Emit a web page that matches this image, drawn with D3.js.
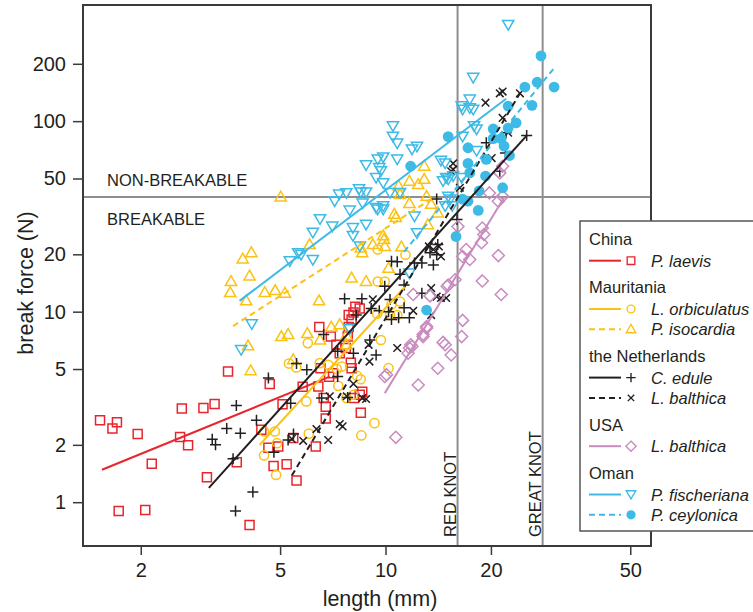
<!DOCTYPE html>
<html>
<head>
<meta charset="utf-8">
<script src="https://cdn.jsdelivr.net/npm/d3@7"></script>
<style>
  body { margin: 0; background: #fff; }
  svg { display: block; font-family: "Liberation Sans", Arial, Helvetica, sans-serif; }
</style>
</head>
<body>
<div id="chart"></div>
<script>
// [length (mm), break force (N)]
const laevisChina = [[1.53,2.69],[1.66,2.44],[1.71,2.63],[1.73,0.90],[1.96,2.28],[2.06,0.91],[2.15,1.59],[2.59,2.20],[2.62,3.10],[2.73,1.99],[3.02,3.12],[3.09,1.35],[3.25,3.28],[3.55,4.85],[3.76,1.62],[4.09,0.76],[4.42,2.40],[4.67,4.17],[4.63,1.93],[4.79,1.55],[4.94,1.96],[5.08,3.27],[5.22,1.58],[5.45,2.17],[5.57,1.30],[5.80,4.03],[6.32,1.96],[6.47,8.3],[6.43,4.05],[6.52,5.05],[6.66,3.52],[6.75,2.75],[6.75,3.17],[6.98,7.4],[7.08,4.75],[6.9,4.55],[7.24,6.7],[7.4,6.05],[7.85,9.6],[8.0,9.1],[8.2,10.6],[8.44,10.4],[8.0,5.05],[7.96,5.4],[8.14,3.52],[8.44,3.66],[8.58,3.8],[8.5,2.95],[7.85,8.3],[7.8,7.4],[7.7,6.45],[8.1,9.9]];
const orbiculatusMau = [[4.5,1.76],[4.87,1.39],[4.5,2.35],[4.9,2.04],[4.83,2.35],[5.3,5.34],[5.56,5.1],[6.0,6.84],[5.94,3.38],[6.04,2.29],[6.49,5.37],[6.86,5.26],[7.26,5.0],[7.33,4.08],[7.73,3.52],[8.1,3.66],[8.3,4.6],[8.5,4.42],[8.53,2.24],[9.3,2.6],[9.47,9.76],[9.5,21.2],[11.4,19.9],[9.5,14.4],[9.95,14.4],[11.0,11.3],[10.4,10.9],[10.8,9.6],[10.3,9.6],[9.7,7.1],[10.2,5.05],[7.5,5.15]];
const isocardiaMau = [[3.91,18.9],[4.14,20.4],[4.09,15.4],[3.62,14.4],[3.6,12.6],[4.0,11.4],[4.52,12.6],[4.84,12.9],[5.16,12.5],[6.46,11.4],[6.07,22.5],[5.04,7.4],[5.27,7.6],[5.98,7.68],[6.5,7.1],[4.05,6.62],[4.12,4.9],[5.45,5.6],[7.4,8.55],[7.73,7.5],[7.0,8.3],[5.02,40],[8.58,20.4],[8.5,21.6],[9.2,22.5],[9.9,23.9],[9.96,22.0],[11.1,21.9],[10.2,16.9],[8.0,15.0],[8.8,14.4],[7.73,6.7],[12.9,58],[11.7,48.4],[12.4,46.5],[12.9,49.5],[10.9,45.6],[11.0,41.2],[13.1,40.3],[13.5,36.6],[11.7,37],[10.6,32.5],[10.7,31.2],[14.1,33],[9.85,25],[13.2,28.6]];
const eduleNL = [[3.75,3.22],[3.52,2.44],[3.85,2.30],[3.20,2.14],[3.27,2.00],[3.67,1.69],[3.73,0.90],[4.18,1.13],[4.28,2.69],[4.63,4.48],[4.80,1.83],[5.36,3.31],[5.27,2.12],[5.46,2.28],[5.57,5.34],[5.96,4.96],[6.57,3.52],[6.66,7.6],[7.30,6.2],[7.64,11.7],[8.25,9.6],[7.30,4.57],[7.8,3.54],[8.56,11.7],[8.1,6.05],[9.02,7.1],[9.4,5.93],[10.3,11.6],[9.95,13.6],[10.4,18.4],[10.8,18.3],[11.0,15.7],[11.3,13.8],[11.3,10.5],[11.7,9.3],[10.9,9.3],[10.4,9.1],[10.2,10.0],[9.6,10.1],[9.1,10.4],[12.7,12.5],[12.1,18.0],[12.7,18.0],[13.7,17.6],[13.4,20.4],[14.0,19.9],[14.0,39],[16.0,30.5],[14.1,22.5],[19.4,77],[22.1,87],[22.0,68],[21.2,54.6],[25.3,84]];
const balthicaNL = [[5.82,2.10],[5.4,2.15],[6.35,2.42],[6.86,2.12],[7.4,2.57],[7.54,2.5],[8.58,3.52],[8.8,3.48],[8.1,4.18],[9.0,5.47],[8.95,6.7],[9.2,11.6],[6.93,3.6],[7.75,3.6],[10.8,6.45],[12.0,10.1],[13.5,9.6],[13.5,13.3],[14.0,12.0],[14.4,11.8],[14.9,11.8],[13.7,21.2],[14.4,19.5],[13.3,22],[14.2,22],[15.6,60],[15.6,55.8],[15.4,54.6],[16.3,44.7],[20.1,64],[22.4,87],[21.6,104],[19.3,125],[21.6,143],[21.2,140],[24.2,140]];
const balthicaUSA = [[15.1,13.8],[15.8,14.7],[13.4,12.1],[13.1,8.2],[12.8,7.4],[11.8,6.7],[11.7,6.45],[11.6,6.05],[14.8,6.7],[15.4,5.93],[14.1,5.05],[10.07,4.67],[16.6,9.0],[16.5,7.4],[14.6,6.9],[12.4,4.12],[11.9,6.56],[12.8,7.6],[13.1,8.35],[9.95,4.57],[10.7,2.19],[21.4,12.3],[12.0,12.3],[21.6,58],[21.2,53.5],[19.8,42],[21.6,40.3],[21.0,38],[16.1,28],[17.0,21.2],[16.6,19.5],[17.4,18.8],[18.9,27.5],[19.1,25.4],[18.8,23],[21.0,19.7],[18.9,14.5],[15.0,13.6]];
const fischerianaOman = [[8.8,58.7],[9.5,63],[9.6,56.8],[9.4,50.4],[9.4,35],[8.8,42.3],[8.5,42.3],[7.73,41.9],[7.37,41.2],[7.16,38],[7.9,34],[8.6,37],[8.07,27.5],[8.07,25],[8.8,28.6],[8.45,22],[6.5,30.6],[7.05,28],[6.2,26],[6.2,18.7],[5.74,19.9],[5.33,18.4],[5.63,20.3],[4.15,8.6],[3.87,6.3],[8.4,43.9],[9.85,34.4],[9.5,34.4],[10.5,94.2],[10.5,83],[10.8,76.5],[11.9,71],[12.3,73.5],[10.8,63],[9.85,64.6],[9.7,54.6],[9.85,47.3],[10.3,42],[11.0,42],[9.85,35.8],[14.6,48.4],[15.1,49.5],[15.6,51.4],[14.4,62],[15.3,38.8],[15.5,35.8],[12.1,31.6],[16.5,120],[17.4,117],[18.2,90.6],[22.4,320],[17.8,169],[17.4,130],[16.6,115],[17.8,115],[17.9,94.2],[16.6,83],[18.2,69.8],[14.8,60],[14.9,50.4],[15.1,40.2],[16.5,50.4],[7.9,8.1],[11.7,15.9],[12.3,25.8],[14.8,35.8]];
const ceylonicaOman = [[27.8,220],[30.3,151],[27.1,160],[25.0,151],[26.2,121],[22.4,120],[23.6,98],[22.4,92],[20.3,91],[20.3,81],[21.4,81],[21.8,74],[22.6,66],[19.4,63],[17.2,72.5],[15.1,83],[17.2,60],[19.3,51.5],[21.6,44.7],[18.5,43],[17.2,38],[11.8,58],[17.4,53.5],[16.6,39],[18.4,34],[15.9,24.8],[13.1,10.2]];

// fitted lines: [x0, y0, x1, y1]
const laevisFit = [1.55, 1.48, 6.93, 4.56];
const orbiculatusFit = [4.37, 2.0, 11.4, 13.6];
const isocardiaFit = [3.67, 8.4, 13.8, 40];
const eduleFit = [3.13, 1.19, 25.3, 84];
const balthicaNLFit = [5.4, 1.38, 24.2, 140];
const balthicaUSAFit = [9.95, 3.73, 21.9, 40.2];
const fischerianaFit = [3.83, 11.4, 22.1, 131];
const ceylonicaFit = [11.3, 20.6, 30.3, 190];

const xTicks = [2, 5, 10, 20, 50];
const yTicks = [1, 2, 5, 10, 20, 50, 100, 200];
const breakLimit = 40;
const knots = [{ name: "RED KNOT", len: 16.06 }, { name: "GREAT KNOT", len: 28.1 }];

const RED = "#e8252c", YEL = "#fbc213", BLK = "#231f20", PNK = "#c98bbf", CYN = "#3dbae6";

const shapes = {
    square: "M-4.5,-4.5h9v9h-9Z",
    circle: "M4.6,0A4.6,4.6 0 1,1 -4.6,0A4.6,4.6 0 1,1 4.6,0Z",
    triUp: "M0,-5.8L5.6,4L-5.6,4Z",
    triDown: "M0,5.2L5.6,-4.4L-5.6,-4.4Z",
    plus: "M-5.5,0H5.5M0,-5.5V5.5",
    cross: "M-3.8,-3.8L3.8,3.8M-3.8,3.8L3.8,-3.8",
    diamond: "M0,-6L6,0L0,6L-6,0Z",
    dot: "M5.4,0A5.4,5.4 0 1,1 -5.4,0A5.4,5.4 0 1,1 5.4,0Z"
};

const series = [
    { name: "P. laevis", pts: laevisChina, fit: laevisFit, color: RED, dash: false, shape: "square" },
    { name: "L. orbiculatus", pts: orbiculatusMau, fit: orbiculatusFit, color: YEL, dash: false, shape: "circle" },
    { name: "P. isocardia", pts: isocardiaMau, fit: isocardiaFit, color: YEL, dash: true, shape: "triUp" },
    { name: "C. edule", pts: eduleNL, fit: eduleFit, color: BLK, dash: false, shape: "plus" },
    { name: "L. balthica", pts: balthicaNL, fit: balthicaNLFit, color: BLK, dash: true, shape: "cross" },
    { name: "L. balthica", pts: balthicaUSA, fit: balthicaUSAFit, color: PNK, dash: false, shape: "diamond" },
    { name: "P. fischeriana", pts: fischerianaOman, fit: fischerianaFit, color: CYN, dash: false, shape: "triDown" },
    { name: "P. ceylonica", pts: ceylonicaOman, fit: ceylonicaFit, color: CYN, dash: true, shape: "dot", filled: true }
];

const legendGroups = [
    { title: "China", items: [0] },
    { title: "Mauritania", items: [1, 2] },
    { title: "the Netherlands", items: [3, 4] },
    { title: "USA", items: [5] },
    { title: "Oman", items: [6, 7] }
];

const svg = d3.select("#chart").append("svg")
    .attr("width", 753)
    .attr("height", 612);

const x = d3.scaleLog().domain([1.368, 57.3]).range([83, 651]);
const y = d3.scaleLog().domain([0.589, 407]).range([546, 5]);

// reference lines
svg.append("line")
    .attr("x1", x.range()[0]).attr("x2", x.range()[1])
    .attr("y1", y(breakLimit)).attr("y2", y(breakLimit))
    .attr("stroke", "#8e8e8e").attr("stroke-width", 2);

svg.selectAll(".knot")
    .data(knots)
    .enter().append("line")
    .attr("class", "knot")
    .attr("x1", d => x(d.len)).attr("x2", d => x(d.len))
    .attr("y1", y.range()[0]).attr("y2", y.range()[1])
    .attr("stroke", "#8e8e8e").attr("stroke-width", 2);

svg.selectAll(".knotlabel")
    .data(knots)
    .enter().append("text")
    .attr("class", "knotlabel")
    .attr("transform", d => `translate(${x(d.len) - 2},537) rotate(-90)`)
    .attr("fill", "#231f20")
    .style("font-size", "16.5px")
    .text(d => d.name);

svg.append("text").attr("x", 107).attr("y", 186)
    .attr("fill", "#231f20").style("font-size", "16.5px").text("NON-BREAKABLE");
svg.append("text").attr("x", 107).attr("y", 225)
    .attr("fill", "#231f20").style("font-size", "16.5px").text("BREAKABLE");

// points
series.forEach(s => {
    svg.append("g").selectAll("path")
        .data(s.pts)
        .enter().append("path")
        .attr("d", shapes[s.shape])
        .attr("transform", d => `translate(${x(d[0])},${y(d[1])})`)
        .attr("fill", s.filled ? s.color : "none")
        .attr("stroke", s.filled ? "none" : s.color)
        .attr("stroke-width", 1.5);
});

// fitted lines
series.forEach(s => {
    svg.append("line")
        .attr("x1", x(s.fit[0])).attr("y1", y(s.fit[1]))
        .attr("x2", x(s.fit[2])).attr("y2", y(s.fit[3]))
        .attr("stroke", s.color)
        .attr("stroke-width", 2)
        .attr("stroke-dasharray", s.dash ? "6,4" : null);
});

// axes
const xAxis = svg.append("g")
    .attr("transform", `translate(0,${y.range()[0]})`)
    .call(d3.axisBottom(x).tickValues(xTicks).tickFormat(d3.format("d")).tickSize(9).tickPadding(8));
const yAxis = svg.append("g")
    .attr("transform", `translate(${x.range()[0]},0)`)
    .call(d3.axisLeft(y).tickValues(yTicks).tickFormat(d3.format("d")).tickSize(10).tickPadding(7));

[xAxis, yAxis].forEach(a => {
    a.select(".domain").remove();
    a.selectAll("line").attr("stroke", "#3a3a3a").attr("stroke-width", 1.5);
    a.selectAll("text").attr("fill", "#231f20")
        .style("font-size", "20px")
        .style("font-family", "'Liberation Sans', Arial, Helvetica, sans-serif");
});

svg.append("rect")
    .attr("x", x.range()[0]).attr("y", y.range()[1])
    .attr("width", x.range()[1] - x.range()[0])
    .attr("height", y.range()[0] - y.range()[1])
    .attr("fill", "none").attr("stroke", "#3a3a3a").attr("stroke-width", 2);

svg.append("text")
    .attr("x", 380).attr("y", 606)
    .attr("text-anchor", "middle")
    .attr("fill", "#231f20")
    .style("font-size", "21.5px")
    .text("length (mm)");

svg.append("text")
    .attr("transform", "translate(33,283) rotate(-90)")
    .attr("text-anchor", "middle")
    .attr("fill", "#231f20")
    .style("font-size", "21.5px")
    .text("break force (N)");

// legend
const legend = svg.append("g");
legend.append("rect")
    .attr("x", 580).attr("y", 221)
    .attr("width", 200).attr("height", 310)
    .attr("fill", "#fff").attr("stroke", "#555").attr("stroke-width", 1.5);

let ly = 239;
legendGroups.forEach((g, gi) => {
    if (gi > 0) ly += 26.6;
    legend.append("text")
        .attr("x", 589).attr("y", ly + 6)
        .attr("fill", "#231f20")
        .style("font-size", "16.5px")
        .text(g.title);
    g.items.forEach((idx, ii) => {
        ly += ii === 0 ? 21.7 : 20.3;
        const s = series[idx];
        legend.append("line")
            .attr("x1", 589).attr("x2", 621)
            .attr("y1", ly).attr("y2", ly)
            .attr("stroke", s.color).attr("stroke-width", 2)
            .attr("stroke-dasharray", s.dash ? "6,4" : null);
        legend.append("path")
            .attr("d", shapes[s.shape])
            .attr("transform", `translate(631,${ly}) scale(0.85)`)
            .attr("fill", s.filled ? s.color : "none")
            .attr("stroke", s.filled ? "none" : s.color)
            .attr("stroke-width", 1.6);
        legend.append("text")
            .attr("x", 651).attr("y", ly + 6)
            .attr("fill", "#231f20")
            .style("font-size", "16.5px")
            .style("font-style", "italic")
            .text(s.name);
    });
});
</script>
</body>
</html>
